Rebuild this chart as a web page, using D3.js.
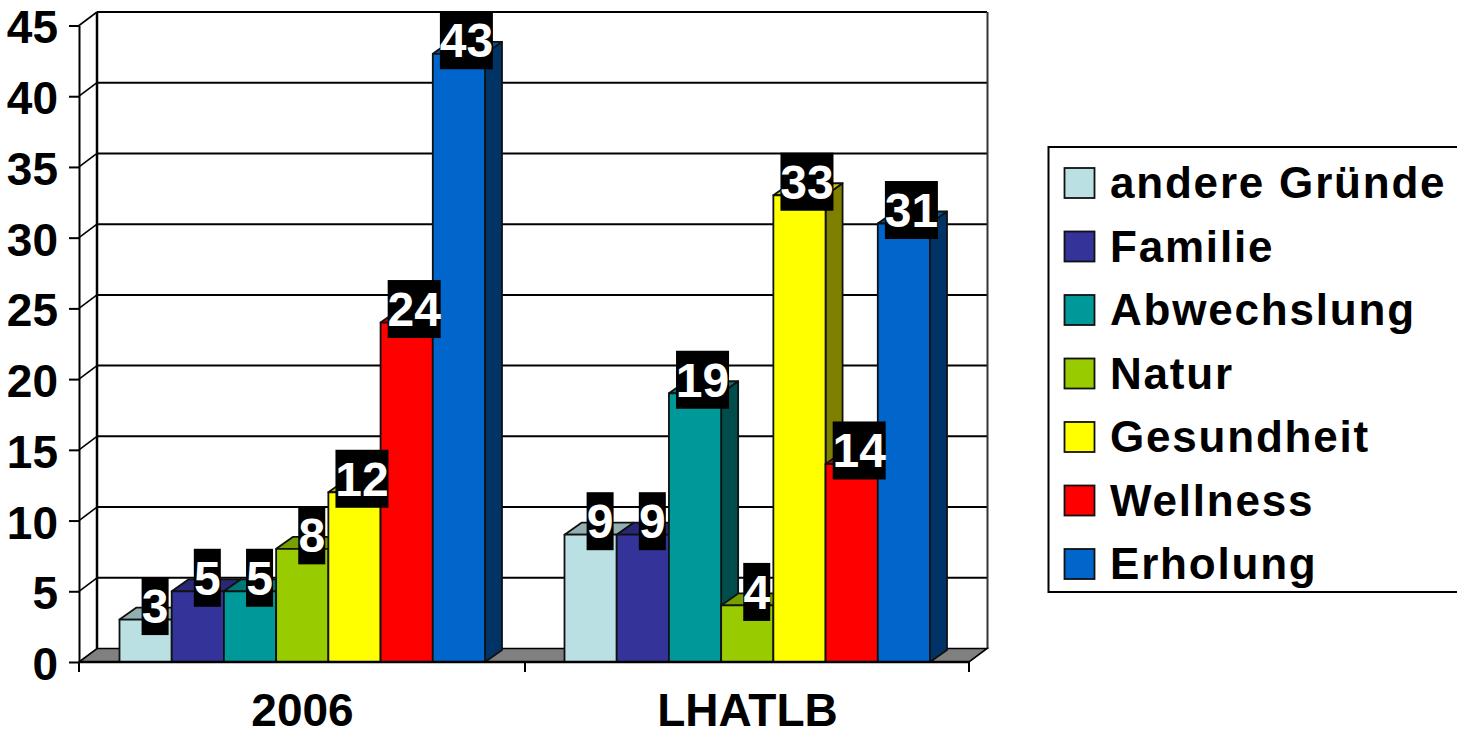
<!DOCTYPE html>
<html><head><meta charset="utf-8">
<script src="https://cdn.jsdelivr.net/npm/d3@7"></script>
<style>html,body{margin:0;padding:0;background:#fff;overflow:hidden}
text{font-family:"Liberation Sans",Arial,sans-serif;font-weight:700}</style>
</head><body><svg id="c" width="1457" height="730"></svg>
<script>
const categories = ["2006", "LHATLB"];
const seriesNames = ["andere Gründe", "Familie", "Abwechslung", "Natur", "Gesundheit", "Wellness", "Erholung"];
const values2006 = [3, 5, 5, 8, 12, 24, 43];
const valuesLHATLB = [9, 9, 19, 4, 33, 14, 31];
const seriesColors = ["#BBE0E3", "#333399", "#009999", "#99CC00", "#FFFF00", "#FF0000", "#0066CC"];
const yTicks = [0, 5, 10, 15, 20, 25, 30, 35, 40, 45];

const valuesByCategory = [values2006, valuesLHATLB];
const svg = d3.select("#c");
const depthX = 18, depthY = 13.5, barDepthX = 17, barDepthY = 12;
const y = d3.scaleLinear().domain([0, 45]).range([662, 25.5]);
const x = d3.scaleBand().domain(categories).range([79, 969]);
const inner = d3.scaleBand().domain(seriesNames).range([40.5, 406]);
const ink = "#000";

// back wall and gridlines
const grid = svg.append("g");
yTicks.slice(1).forEach(t => {
  grid.append("line").attr("x1", 79 + depthX).attr("x2", 969 + depthX)
    .attr("y1", y(t) - depthY).attr("y2", y(t) - depthY).attr("stroke", ink).attr("stroke-width", 2);
  grid.append("line").attr("x1", 79).attr("x2", 79 + depthX)
    .attr("y1", y(t)).attr("y2", y(t) - depthY).attr("stroke", ink).attr("stroke-width", 1.6);
});
grid.append("line").attr("x1", 97).attr("x2", 97).attr("y1", y(45) - depthY).attr("y2", y(0) - depthY)
  .attr("stroke", ink).attr("stroke-width", 2.5);
grid.append("line").attr("x1", 987.5).attr("x2", 987.5).attr("y1", y(45) - depthY).attr("y2", y(0) - depthY)
  .attr("stroke", "#333").attr("stroke-width", 2);

// floor
svg.append("path")
  .attr("d", d3.line()([[79, y(0)], [79 + depthX, y(0) - depthY], [969 + depthX, y(0) - depthY], [969, y(0)]]) + "Z")
  .attr("fill", "#808080").attr("stroke", ink).attr("stroke-width", 1.6);

// axes
const yAxis = svg.append("g").attr("transform", "translate(79,0)")
  .call(d3.axisLeft(y).tickValues(yTicks).tickSize(10).tickPadding(11).tickSizeOuter(0));
yAxis.select(".domain").attr("stroke", ink).attr("stroke-width", 2);
yAxis.selectAll(".tick line").attr("stroke", ink).attr("stroke-width", 2);
yAxis.selectAll("text").attr("font-size", 46).attr("fill", ink).attr("dy", "0.38em")
  .style("font-family", '"Liberation Sans",Arial,sans-serif').style("font-weight", 700);

// bars, drawn left to right so that each one overlaps its neighbour's side
const darken = (c, k) => { const r = d3.rgb(c); return d3.rgb(r.r * k, r.g * k, r.b * k).formatHex(); };
const labels = [];
categories.forEach((cat, ci) => {
  const g = svg.append("g").attr("transform", `translate(${x(cat)},0)`);
  seriesNames.forEach((name, si) => {
    const v = valuesByCategory[ci][si];
    const x0 = inner(name), x1 = x0 + inner.bandwidth(), yt = y(v), yb = y(0);
    const b = g.append("g").attr("stroke", "#111").attr("stroke-width", 1.8).attr("stroke-linejoin", "round");
    b.append("path").attr("fill", darken(seriesColors[si], 0.5))
      .attr("d", d3.line()([[x1, yt], [x1 + barDepthX, yt - barDepthY], [x1 + barDepthX, yb - barDepthY], [x1, yb]]) + "Z");
    b.append("path").attr("fill", darken(seriesColors[si], 0.78))
      .attr("d", d3.line()([[x0, yt], [x0 + barDepthX, yt - barDepthY], [x1 + barDepthX, yt - barDepthY], [x1, yt]]) + "Z");
    b.append("rect").attr("x", x0).attr("y", yt).attr("width", x1 - x0).attr("height", yb - yt)
      .attr("fill", seriesColors[si]);
    labels.push({ v, cx: x(cat) + (x0 + x1) / 2, yt });
  });
});

// baseline and category ticks
const xAxis = svg.append("g").attr("transform", `translate(1,${y(0)})`)
  .call(d3.axisBottom(x).tickSize(0).tickPadding(31));
xAxis.select(".domain").remove();
xAxis.selectAll("text").attr("font-size", 46).attr("fill", ink).attr("dy", "0.71em")
  .style("font-family", '"Liberation Sans",Arial,sans-serif').style("font-weight", 700);
svg.append("line").attr("x1", 79).attr("x2", 969).attr("y1", y(0)).attr("y2", y(0)).attr("stroke", ink).attr("stroke-width", 2.4);
const bandEdges = [x.range()[0], x(categories[1]) + 1, x.range()[1]];
svg.selectAll(".xt").data(bandEdges).join("line").attr("class", "xt")
  .attr("x1", d => d).attr("x2", d => d).attr("y1", y(0)).attr("y2", y(0) + 10)
  .attr("stroke", ink).attr("stroke-width", 2);

// data labels
const lab = svg.append("g");
labels.forEach(d => {
  const s = String(d.v), w = s.length > 1 ? 53 : 27, cx = d.cx + (s.length > 1 ? 7.5 : 9.5), cy = d.yt - 13.5;
  lab.append("rect").attr("x", cx - w / 2).attr("y", cy - 29).attr("width", w).attr("height", 58).attr("fill", "#000");
  lab.append("text").attr("x", cx).attr("y", cy + 17).attr("text-anchor", "middle")
    .attr("font-size", 48).attr("fill", "#fff").text(s);
});

// legend
svg.append("rect").attr("x", 1048.5).attr("y", 147).attr("width", 420).attr("height", 445)
  .attr("fill", "#fff").attr("stroke", ink).attr("stroke-width", 2);
const legendRow = d3.scalePoint().domain(seriesNames).range([183, 564]);
const rows = svg.selectAll(".lg").data(seriesNames).join("g").attr("class", "lg")
  .attr("transform", d => `translate(0,${legendRow(d)})`);
rows.append("rect").attr("x", 1064.5).attr("y", -15).attr("width", 30).attr("height", 30)
  .attr("fill", (d, i) => seriesColors[i]).attr("stroke", "#111").attr("stroke-width", 1.8);
rows.append("text").attr("x", 1110).attr("y", 15).attr("font-size", 44).attr("letter-spacing", 1.8)
  .attr("fill", ink).text(d => d);
</script></body></html>
